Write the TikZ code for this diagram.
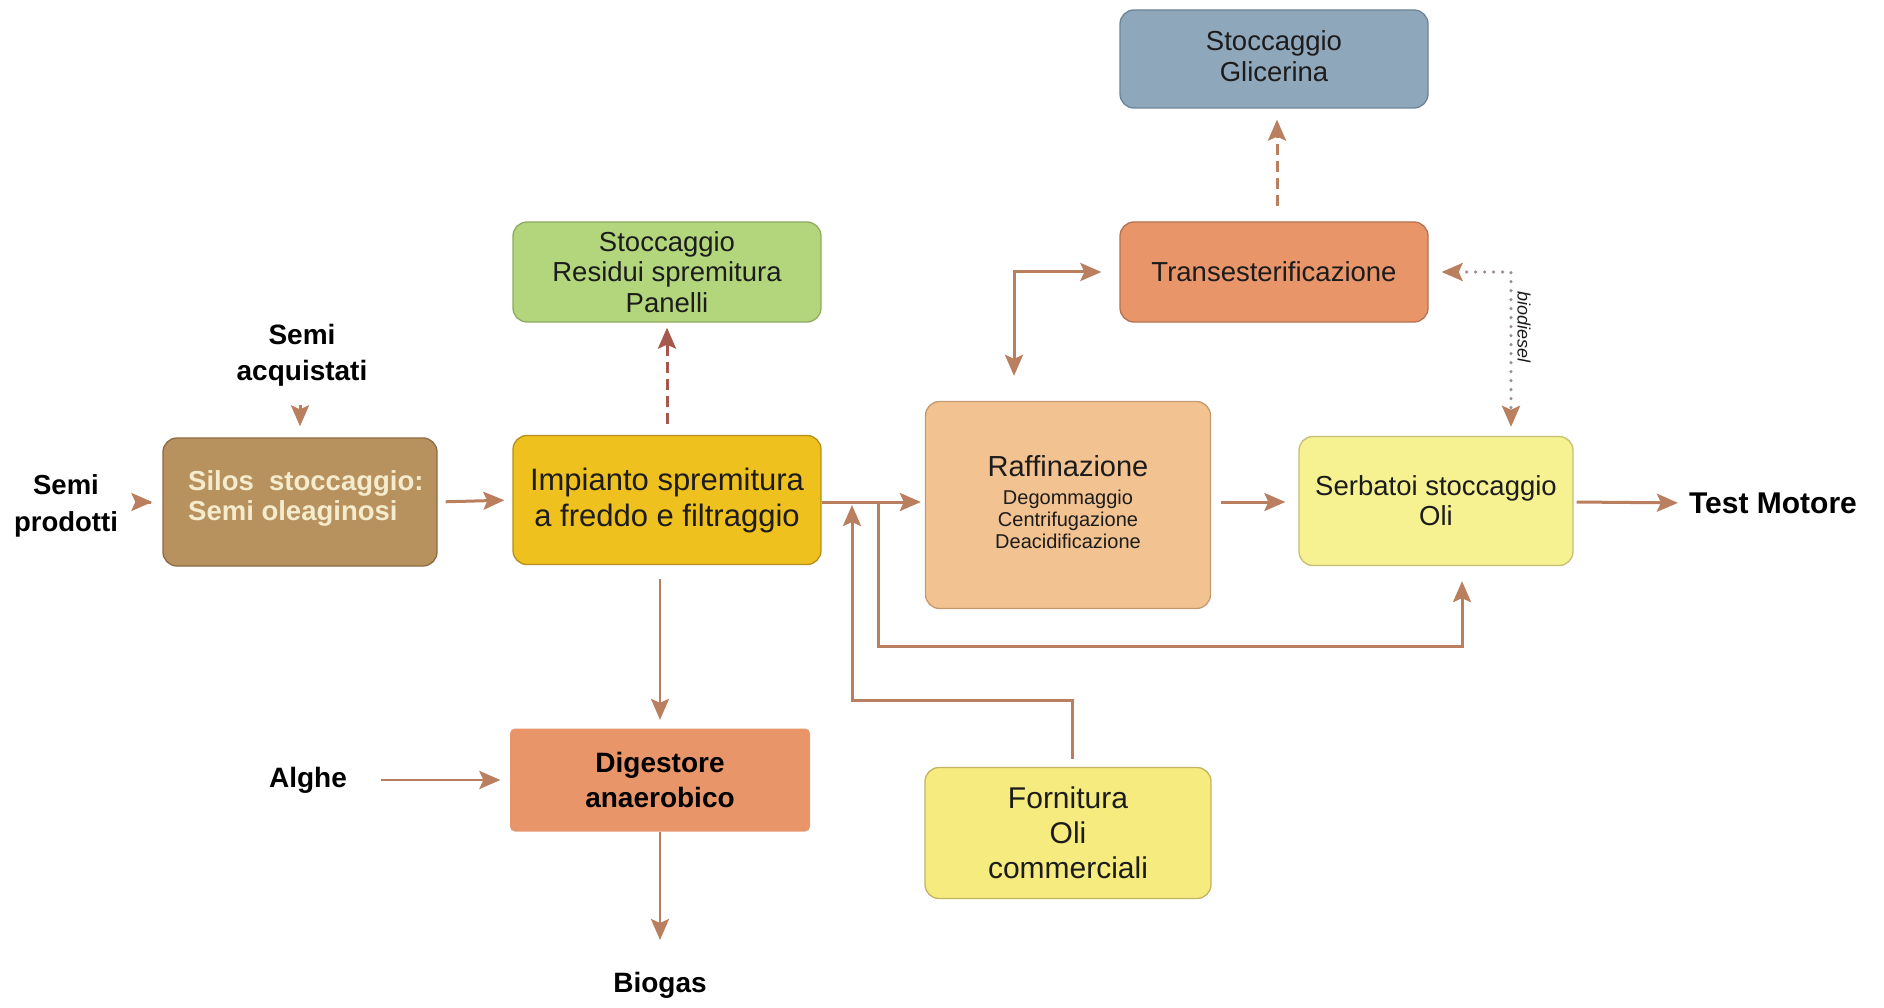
\documentclass[tikz,border=0pt]{standalone}
\usepackage{fontspec}
\setmainfont{Liberation Sans}
\usetikzlibrary{arrows.meta,calc}

\definecolor{arrowc}{HTML}{BA7F5E}
\definecolor{dashc}{HTML}{A5584C}
\definecolor{dotc}{HTML}{9C8E86}
\definecolor{textc}{HTML}{1C1C1C}
\definecolor{silosfill}{HTML}{B8925E}
\definecolor{silosline}{HTML}{8C6B42}
\definecolor{silostext}{HTML}{F4ECCD}
\definecolor{pressfill}{HTML}{EFC11E}
\definecolor{pressline}{HTML}{B48F1E}
\definecolor{cakefill}{HTML}{B3D67C}
\definecolor{cakeline}{HTML}{8FAA62}
\definecolor{glyfill}{HTML}{8FA7BB}
\definecolor{glyline}{HTML}{6C8497}
\definecolor{transfill}{HTML}{E9956A}
\definecolor{transline}{HTML}{B47250}
\definecolor{refinefill}{HTML}{F2C291}
\definecolor{refineline}{HTML}{C39A72}
\definecolor{tankfill}{HTML}{F6F291}
\definecolor{tankline}{HTML}{C6BE72}
\definecolor{supplyfill}{HTML}{F5EB7E}
\definecolor{supplyline}{HTML}{C2B464}
\definecolor{digestfill}{HTML}{E9956A}

\newcommand{\setfs}[2]{\fontsize{#1}{#2}\selectfont}

\begin{document}
\begin{tikzpicture}[x=1pt,y=-1pt,
  flowbox/.style={rounded corners=14pt, line width=1.3pt, inner sep=0pt,
    align=center, text=textc},
  lbl/.style={inner sep=0pt, align=center, text=black, font=\bfseries\setfs{28}{36}},
  arr/.style={draw=arrowc, line width=3pt,
    -{Stealth[length=21pt,width=18pt,inset=4pt]}},
  dasharr/.style={arr, dash pattern=on 11pt off 6pt},
]
\fill[white] (0,0) rectangle (1884,1008);
\useasboundingbox (0,0) rectangle (1884,1008);

% process boxes
\node[flowbox, fill=silosfill, draw=silosline, minimum width=274pt, minimum height=128pt]
  (silos) at (300,502) {};
\node[anchor=west, inner sep=0pt, align=left, text=silostext, font=\bfseries\setfs{27.5}{30}]
  (silostxt) at (188,498) {Silos~~stoccaggio:\\Semi oleaginosi};

\node[flowbox, fill=pressfill, draw=pressline, minimum width=308pt, minimum height=129pt,
  font=\setfs{31}{36}] (press) at (667,500) {Impianto spremitura\\a freddo e filtraggio};

\node[flowbox, fill=cakefill, draw=cakeline, minimum width=308pt, minimum height=100pt,
  font=\setfs{27.5}{30.5}] (cake) at (667,272) {Stoccaggio\\Residui spremitura\\Panelli};

\node[flowbox, fill=glyfill, draw=glyline, minimum width=308pt, minimum height=98pt]
  (glycerin) at (1274,59) {};
\node[inner sep=0pt, align=center, text=textc, font=\setfs{27.5}{31}] (glycerintxt)
  at (1274,56) {Stoccaggio\\Glicerina};

\node[flowbox, fill=transfill, draw=transline, minimum width=308pt, minimum height=100pt,
  font=\setfs{27.5}{31}] (trans) at (1274,272) {Transesterificazione};

\node[flowbox, fill=refinefill, draw=refineline, minimum width=285pt, minimum height=207pt]
  (refine) at (1068,505) {};
\node[inner sep=0pt, align=center, text=textc, font=\setfs{20}{22}] (refinetxt) at (1068,502)
  {{\setfs{29}{30}Raffinazione}\\[6pt]Degommaggio\\Centrifugazione\\Deacidificazione};

\node[flowbox, fill=tankfill, draw=tankline, minimum width=274pt, minimum height=129pt,
  font=\setfs{27.5}{30}] (tank) at (1436,501) {Serbatoi stoccaggio\\Oli};

\node[flowbox, fill=supplyfill, draw=supplyline, minimum width=286pt, minimum height=131pt,
  font=\setfs{30}{35}] (supply) at (1068,833) {Fornitura\\Oli\\commerciali};

\node[flowbox, rounded corners=5pt, fill=digestfill, draw=none, minimum width=300pt,
  minimum height=103pt, text=black, font=\bfseries\setfs{28}{35}] (digest) at (660,780)
  {Digestore\\anaerobico};

% free labels
\node[lbl, font=\bfseries\setfs{27.5}{37}] (seedsown) at (66,506) {Semi\\prodotti};
\node[lbl] (seedsbought) at (302,355) {Semi\\acquistati};
\node[lbl] (algae) at (308,780) {Alghe};
\node[lbl] (biogas) at (660,985) {Biogas};
\node[lbl, font=\bfseries\setfs{30}{36}] (engine) at (1773,503) {Test Motore};

% routing points
\coordinate (split) at (878,502);
\coordinate (lowbus) at (878,646);
\coordinate (join) at (852,502);
\coordinate (supplybus) at (852,700);
\coordinate (loopcorner) at (1014,272);
\coordinate (biocorner) at (1511,272);

% seed inputs
\draw[arr, shorten <=33pt, shorten >=10pt] (seedsown.east |- silos.west) -- (silos.west);
\draw[arr] ([yshift=32pt]silos.north) -- ([yshift=11pt]silos.north);

% main line
\draw[arr, shorten <=8pt, shorten >=8pt] (silos.east) -- (press.west);
\draw[arr, shorten >=4pt] (press.east |- split) -- (refine.west |- split);
\draw[arr, shorten <=10pt, shorten >=13pt] (refine.east |- split) -- (tank.west |- split);
\draw[arr, shorten <=3pt, shorten >=11pt] (tank.east |- split) -- (engine.west);

% press by-products
\draw[dasharr, draw=dashc, shorten <=11pt, shorten >=5pt] (press.north) -- (cake.south);
\draw[arr, line width=2.6pt, shorten <=14pt, shorten >=8pt] (digest.north |- press.south) -- (digest.north);
\draw[arr, line width=2.6pt, shorten <=34pt, shorten >=9pt] (algae.east) -- (digest.west);
\draw[arr, line width=2.6pt, shorten >=45pt] (digest.south) -- (biogas.center);

% bypass to storage tanks
\draw[arr] (split) -- (lowbus) -| ([xshift=26pt,yshift=-15pt]tank.south);

% commercial oil supply
\draw[arr, shorten >=3pt] ([yshift=8pt]supply.north -| 1072,0) |- (supplybus) -- (join);

% refining <-> transesterification
\draw[arr, {Stealth[length=21pt,width=18pt,inset=4pt]}-{Stealth[length=21pt,width=18pt,inset=4pt]},
  shorten <=25pt, shorten >=18pt] (refine.north -| loopcorner) -- (loopcorner) -- (trans.west);

% glycerin
\draw[dasharr, shorten <=15pt, shorten >=11pt] ([xshift=3pt]trans.north) -- ([xshift=3pt]glycerin.south);

% biodiesel return
\draw[draw=dotc, line width=3.4pt, line cap=round, dash pattern=on 0pt off 9pt,
  {Stealth[length=21pt,width=18pt,inset=4pt,color=arrowc]}-{Stealth[length=21pt,width=18pt,inset=4pt,color=arrowc]},
  shorten <=13pt, shorten >=9pt] (trans.east) -- (biocorner) -- (biocorner |- tank.north);
\node[rotate=-90, inner sep=0pt, text=textc, font=\itshape\setfs{18}{20}] (biolabel) at (1524,327) {biodiesel};

\end{tikzpicture}
\end{document}
